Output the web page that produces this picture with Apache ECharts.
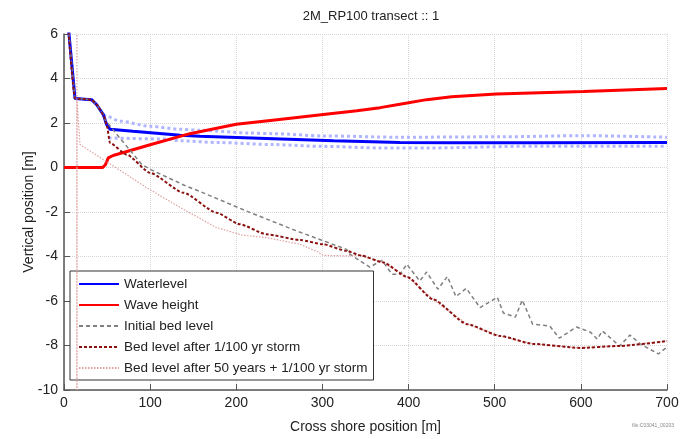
<!DOCTYPE html>
<html>
<head>
<meta charset="utf-8">
<script src="https://cdn.jsdelivr.net/npm/echarts@6/dist/echarts.min.js"></script>
<style>
  html, body { margin: 0; padding: 0; background: #fff; }
  #main { width: 695px; height: 439px; }
</style>
</head>
<body>
<div id="main"></div>
<script>
const FONT = "'Liberation Sans Narrow', 'Liberation Sans', Arial, sans-serif"

// x positions / values
const waterlevel = [[3.4, 7], [12.8, 3.1], [32, 3.05], [38, 2.82], [45.6, 2.38], [49.5, 1.93], [53.4, 1.72],
    [80, 1.63], [135, 1.45], [158, 1.4], [235, 1.3], [313, 1.2], [390, 1.12], [450, 1.11], [550, 1.11], [700, 1.12]]
const waterUpper = [[45.6, 2.38], [49.5, 2.3], [65, 2.08], [100, 1.85], [135, 1.72], [158, 1.67], [216, 1.55],
    [243, 1.52], [301, 1.42], [390, 1.36], [506, 1.38], [603, 1.43], [700, 1.36]]
const waterLower = [[52, 1.33], [119, 1.28], [135, 1.2], [180, 1.12], [243, 1.03], [300, 0.95], [367, 0.88],
    [425, 0.88], [545, 0.96], [700, 0.96]]
const waveHeight = [[0, 0], [45, 0], [48, 0.12], [51.4, 0.43], [57, 0.54], [100, 1.02], [146, 1.52], [200, 1.94],
    [250, 2.16], [301, 2.38], [340, 2.55], [367, 2.69], [395, 2.88], [421, 3.05], [450, 3.18], [502, 3.3],
    [603, 3.42], [700, 3.55]]
const initialBed = [[3.4, 7], [12.8, 3.1], [32, 3.05], [38, 2.82], [45.6, 2.38], [47.6, 2.15], [60, 1.55],
    [75, 0.85], [90, 0.15], [100, -0.08], [142, -0.84], [158, -1.08], [212, -1.96], [270, -2.85], [328, -3.68],
    [332, -3.9], [355, -4.48], [369, -4.17], [381, -4.8], [390, -4.8], [398, -4.35], [413, -5.1], [421, -4.7],
    [434, -5.47], [445, -4.9], [455, -5.8], [467, -5.43], [483, -6.3], [503, -5.83], [510, -6.54], [524, -6.72],
    [532, -5.96], [544, -7.04], [564, -7.13], [575, -7.67], [595, -7.17], [611, -7.4], [619, -7.71],
    [625, -7.35], [645, -8.02], [657, -7.53], [669, -7.93], [690, -8.38], [700, -8.07]]
const stormBed = [[3.4, 7], [12.8, 3.1], [32, 3.05], [38, 2.82], [45.6, 2.38], [49.5, 1.93], [53.4, 1.1],
    [72.8, 0.58], [100, -0.24], [138.5, -1.13], [177, -2.03], [204, -2.55], [235, -3.0], [274, -3.26],
    [301, -3.45], [328, -3.75], [345, -3.96], [370, -4.26], [399, -4.93], [428, -5.92], [468, -7.04],
    [506, -7.57], [545, -7.93], [599, -8.11], [645, -8.02], [700, -7.8]]
const bed50yr = [[15, 6.5], [15, -10], [15, 3.05], [18.6, 1.03], [60, 0.0], [96, -0.91], [138.5, -1.88],
    [177, -2.7], [208, -3.05], [235, -3.15], [274, -3.45], [295, -3.8], [301, -3.95], [328, -3.97],
    [345, -3.96], [370, -4.26], [399, -4.93], [428, -5.92], [468, -7.04], [506, -7.57], [545, -7.93],
    [599, -8.11], [645, -8.02], [700, -7.8]]

const legendNames = ['Waterlevel', 'Wave height', 'Initial bed level', 'Bed level after 1/100 yr storm',
    'Bed level after 50 years + 1/100 yr storm']

const chart = echarts.init(document.getElementById('main'))

const line = (name, data, color, width, type, z, smooth) => ({
    name: name,
    type: 'line',
    data: data,
    symbol: 'none',
    smooth: smooth || false,
    smoothMonotone: 'x',
    silent: true,
    z: z,
    lineStyle: { color: color, width: width, type: type },
    itemStyle: { color: color }
})

const option = {
    animation: false,
    backgroundColor: '#fff',
    title: {
        text: '2M_RP100 transect :: 1',
        left: 366,
        textAlign: 'center',
        top: 5,
        textStyle: { fontFamily: FONT, fontSize: 13, fontWeight: 'normal', color: '#222' }
    },
    grid: { left: 64, right: 28, top: 34, bottom: 48 },
    legend: {
        data: legendNames,
        orient: 'vertical',
        left: 70,
        top: 271,
        itemWidth: 40,
        itemHeight: 14,
        itemGap: 7,
        padding: [6, 6, 5, 8],
        borderColor: '#333',
        borderWidth: 1,
        backgroundColor: '#fff',
        itemStyle: { color: 'transparent', borderColor: 'transparent', borderWidth: 0, opacity: 0 },
        textStyle: { fontFamily: FONT, fontSize: 13.5, color: '#222' }
    },
    xAxis: {
        type: 'value',
        min: 0,
        max: 700,
        interval: 100,
        name: 'Cross shore position [m]',
        nameLocation: 'middle',
        nameGap: 30,
        nameMoveOverlap: false,
        nameTextStyle: { fontFamily: FONT, fontSize: 14, color: '#222' },
        axisLine: { onZero: false, lineStyle: { color: '#555', width: 1.5 } },
        axisTick: { inside: true, length: 6, lineStyle: { color: '#555' } },
        axisLabel: { fontFamily: FONT, fontSize: 14, color: '#222', margin: 6 },
        splitLine: { show: true, lineStyle: { color: '#d6d6d6', type: 'dotted', width: 1 } }
    },
    yAxis: {
        type: 'value',
        min: -10,
        max: 6,
        interval: 2,
        name: 'Vertical position [m]',
        nameLocation: 'middle',
        nameGap: 28,
        nameMoveOverlap: false,
        nameTextStyle: { fontFamily: FONT, fontSize: 14, color: '#222' },
        axisLine: { show: true, onZero: false, lineStyle: { color: '#555', width: 1.5 } },
        axisTick: { show: true, inside: true, length: 6, lineStyle: { color: '#555' } },
        axisLabel: { fontFamily: FONT, fontSize: 14, color: '#222', margin: 6 },
        splitLine: { show: true, lineStyle: { color: '#d6d6d6', type: 'dotted', width: 1 } }
    },
    graphic: [{
        type: 'text',
        left: 632,
        top: 423,
        style: { text: 'file:C03041_00203', fontSize: 5, fill: '#888', fontFamily: FONT }
    }],
    series: [
        line('Waterlevel range top', waterUpper, '#b0b5ff', 3, 'dotted', 2, 0.3),
        line('Waterlevel range bottom', waterLower, '#b0b5ff', 3, 'dotted', 2, 0.3),
        line('Waterlevel', waterlevel, '#0000ff', 3, 'solid', 3),
        line('Wave height', waveHeight, '#ff0000', 3, 'solid', 4),
        line('Initial bed level', initialBed, '#808080', 1.5, [4, 3], 5),
        line('Bed level after 50 years + 1/100 yr storm', bed50yr, '#e0a0a0', 1.2, [1.5, 1.5], 5),
        line('Bed level after 1/100 yr storm', stormBed, '#8b1010', 2, [3, 2], 6, 0.2)
    ]
}

chart.setOption(option)
</script>
</body>
</html>
